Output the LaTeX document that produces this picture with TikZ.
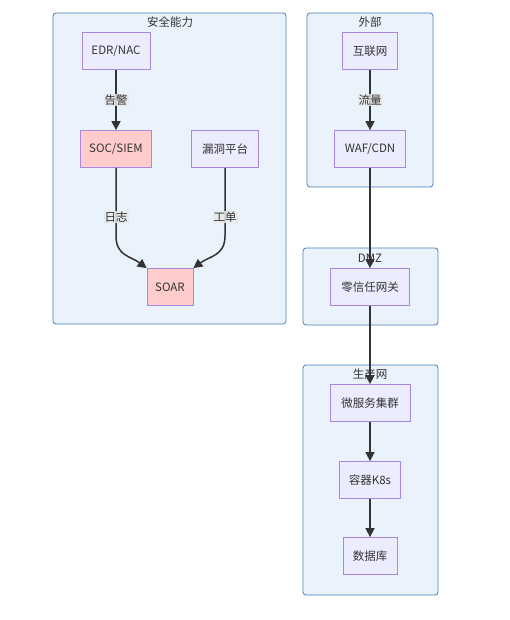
\documentclass[tikz,border=0pt]{standalone}
\usepackage{fontspec}
\setmainfont{Noto Sans CJK SC}
\usetikzlibrary{arrows.meta,positioning}
\definecolor{grpfill}{HTML}{EAF2FB}
\definecolor{grpline}{HTML}{4A80B8}
\definecolor{nodefill}{HTML}{ECECFF}
\definecolor{nodeline}{HTML}{A987E0}
\definecolor{alertfill}{HTML}{FFCCCC}
\definecolor{edgecol}{HTML}{333333}
\definecolor{lblfill}{HTML}{E8E8E8}

\begin{document}
\begin{tikzpicture}[
  x=1pt, y=-1pt,
  font=\fontsize{11.5}{13}\selectfont,
  group/.style={draw=grpline, fill=grpfill, rounded corners=3pt, line width=0.8pt},
  gtitle/.style={text=edgecol, inner sep=0pt},
  box/.style={draw=nodeline, fill=nodefill, line width=0.8pt, inner sep=0pt,
              minimum height=37pt, text=edgecol},
  hot/.style={box, fill=alertfill},
  arr/.style={-{Triangle[length=9pt,width=9pt]}, line width=1.5pt, draw=edgecol},
  lbl/.style={fill=lblfill, fill opacity=0.85, text opacity=1, text=edgecol,
              inner sep=1pt}
]
  \useasboundingbox (0,0) rectangle (510,620);

  % groups
  \draw[group] (53,13) rectangle (286,324);
  \node[gtitle] (tsec) at (170,22) {安全能力};
  \draw[group] (307,13) rectangle (433,187);
  \node[gtitle] (text) at (370,22) {外部};
  \draw[group] (303,248) rectangle (438,325);
  \node[gtitle] (tdmz) at (370,258) {DMZ};
  \draw[group] (303,365) rectangle (438,595);
  \node[gtitle] (tprod) at (370,374) {生产网};

  % nodes
  \node[box, minimum width=68pt] (edr) at (116,51) {EDR/NAC};
  \node[hot, minimum width=71pt] (soc) at (116,149) {SOC/SIEM};
  \node[box, minimum width=67pt] (vuln) at (225,149) {漏洞平台};
  \node[hot, minimum width=46pt] (soar) at (170,287) {SOAR};
  \node[box, minimum width=55pt] (inet) at (370,51) {互联网};
  \node[box, minimum width=71pt] (waf) at (370,149) {WAF/CDN};
  \node[box, minimum width=79pt] (zt) at (370,287) {零信任网关};
  \node[box, minimum width=80pt] (micro) at (370,403) {微服务集群};
  \node[box, minimum width=61pt] (k8s) at (370,480) {容器K8s};
  \node[box, minimum width=54pt] (db) at (370,556) {数据库};

  % edges
  \draw[arr] (edr) -- node[lbl] {告警} (soc);
  \draw[arr] (inet) -- node[lbl] {流量} (waf);
  \draw[arr] (soc.south) -- ++(0,68) .. controls +(0,20) and +(-16,-12) .. (soar.north west);
  \draw[arr] (vuln.south) -- ++(0,68) .. controls +(0,20) and +(16,-12) .. (soar.north east);
  \node[lbl] (llog) at (116,217) {日志};
  \node[lbl] (ltkt) at (225,217) {工单};
  \draw[arr] (waf) -- (zt);
  \draw[arr] (zt) -- (micro);
  \draw[arr] (micro) -- (k8s);
  \draw[arr] (k8s) -- (db);
\end{tikzpicture}
\end{document}
